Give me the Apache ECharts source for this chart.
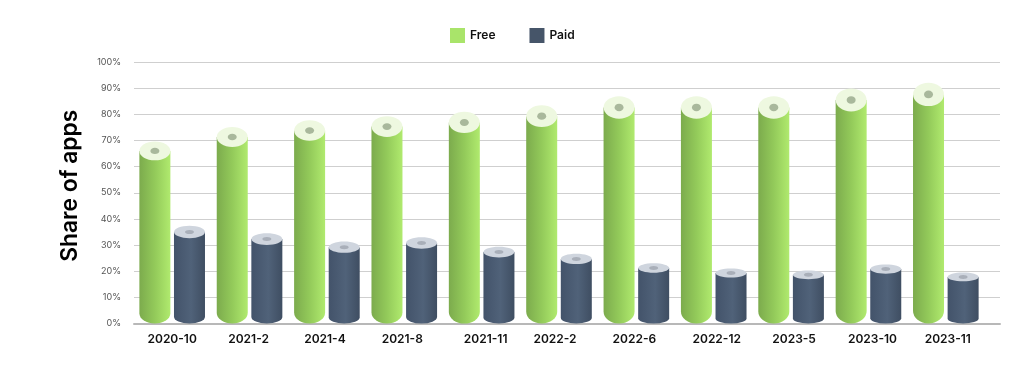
<!DOCTYPE html>
<html lang="en">
<head>
    <meta charset="UTF-8">
    <title>Share of apps</title>
    <script src="https://cdn.jsdelivr.net/npm/echarts@6/dist/echarts.min.js"></script>
    <style>
        html, body { margin: 0; padding: 0; background: #fff; }
        #main { width: 1024px; height: 375px; }
    </style>
</head>
<body>
    <div id="main"></div>
<script>
    var categories = ['2020-10','2021-2','2021-4','2021-8','2021-11','2022-2','2022-6','2022-12','2023-5','2023-10','2023-11'];
    var freeValues = [66, 71.3, 73.8, 75.3, 76.9, 79.3, 82.6, 82.6, 82.6, 85.5, 87.6];
    var paidValues = [35, 32.3, 29.2, 30.8, 27.3, 24.7, 21.2, 19.3, 18.6, 20.8, 17.8];
    var yTicks = [0, 10, 20, 30, 40, 50, 60, 70, 80, 90, 100];

    var FONT = 'Inter, "Noto Sans", sans-serif';

    // the labels in the picture don't sit exactly under their bars (px, + is right)
    var labelShift = [0, -1, -2, -2, 4, -4, -2, 3, 3, 4, 2];

    // draws one cylinder, body + cap + hole
    function cylinder(offset, body, cap, hole) {
        return function (params, api) {
            var idx = api.value(0);
            var val = api.value(1);
            var top = api.coord([idx, val]);
            var base = api.coord([idx, 0]);
            var cx = top[0] + offset;
            var rx = 15.5;
            var ry = 2.5 + val * 0.105;   // caps get taller on the higher bars
            var bottomRy = 3 + val * 0.11;
            var bottom = base[1] - bottomRy;
            var d = 'M' + (cx - rx) + ' ' + top[1] +
                'L' + (cx - rx) + ' ' + bottom +
                'A' + rx + ' ' + bottomRy + ' 0 0 0 ' + (cx + rx) + ' ' + bottom +
                'L' + (cx + rx) + ' ' + top[1] + 'Z';
            return {
                type: 'group',
                children: [
                    {
                        type: 'path',
                        shape: { pathData: d },
                        style: { fill: new echarts.graphic.LinearGradient(0, 0, 1, 0, body) }
                    },
                    {
                        type: 'ellipse',
                        shape: { cx: cx, cy: top[1], rx: rx, ry: ry },
                        style: { fill: cap }
                    },
                    {
                        type: 'ellipse',
                        shape: { cx: cx, cy: top[1], rx: 4.5, ry: Math.max(2, ry * 0.33) },
                        style: { fill: hole }
                    }
                ]
            };
        };
    }

    var greenBody = [
        { offset: 0, color: '#7cab4d' },
        { offset: 0.5, color: '#93ca5a' },
        { offset: 1, color: '#b0ea6e' }
    ];
    var blueBody = [
        { offset: 0, color: '#43536a' },
        { offset: 0.55, color: '#506279' },
        { offset: 1, color: '#3f4e62' }
    ];

    function toPairs(values) {
        return values.map(function (v, i) { return [i, v]; });
    }

    var categoryData = categories.map(function (c, i) {
        var s = labelShift[i] * 2;
        return { value: c, textStyle: { padding: s > 0 ? [0, 0, 0, s] : [0, -s, 0, 0] } };
    });

    var myChart = echarts.init(document.getElementById('main'));

    var option = {
        animation: false,
        backgroundColor: '#fff',
        legend: {
            top: 23,
            left: 445,
            itemWidth: 15,
            itemHeight: 15,
            itemGap: 34,
            icon: 'rect',
            data: ['Free', 'Paid'],
            textStyle: { fontFamily: FONT, fontSize: 12, fontWeight: 600, color: '#111' }
        },
        // grid 0 carries the lines (they run past the last band), grid 1 the bars
        grid: [
            { left: 134, right: 24, top: 62, height: 261.5 },
            { left: 133.5, width: 851, top: 62, height: 261.5 }
        ],
        xAxis: [
            {
                gridIndex: 0,
                type: 'value',
                min: 0,
                max: 1,
                axisLine: { show: true, lineStyle: { color: '#b8b8b8', width: 2 } },
                axisTick: { show: false },
                axisLabel: { show: false },
                splitLine: { show: false }
            },
            {
                gridIndex: 1,
                type: 'category',
                data: categoryData,
                axisLine: { show: false },
                axisTick: { show: false },
                axisLabel: { fontFamily: FONT, fontSize: 12, fontWeight: 600, color: '#111', margin: 10, interval: 0 }
            }
        ],
        yAxis: [
            {
                gridIndex: 0,
                type: 'value',
                min: 0,
                max: 100,
                interval: 10,
                name: 'Share of apps',
                nameLocation: 'middle',
                nameRotate: 90,
                nameGap: 52,
                nameTextStyle: { fontFamily: FONT, fontSize: 22.8, fontWeight: 600, color: '#000', padding: [0, 0, 0, 14] },
                axisLine: { show: false },
                axisTick: { show: false },
                axisLabel: {
                    fontFamily: FONT,
                    fontSize: 9,
                    color: '#555',
                    margin: 13,
                    formatter: function (v) { return yTicks.indexOf(v) >= 0 ? v + '%' : ''; }
                },
                splitLine: { lineStyle: { color: '#cfcfcf', width: 1 } }
            },
            { gridIndex: 1, type: 'value', min: 0, max: 100, show: false, splitLine: { show: false } }
        ],
        series: [
            {
                name: 'Free',
                type: 'custom',
                xAxisIndex: 1,
                yAxisIndex: 1,
                itemStyle: { color: '#a9e46a' },
                encode: { x: 0, y: 1 },
                data: toPairs(freeValues),
                renderItem: cylinder(-17.3, greenBody, '#eef8e0', '#a9b89c')
            },
            {
                name: 'Paid',
                type: 'custom',
                xAxisIndex: 1,
                yAxisIndex: 1,
                itemStyle: { color: '#465569' },
                encode: { x: 0, y: 1 },
                data: toPairs(paidValues),
                renderItem: cylinder(17.3, blueBody, '#cfd5de', '#a9afb9')
            }
        ]
    };

    myChart.setOption(option);
</script>
</body>
</html>
